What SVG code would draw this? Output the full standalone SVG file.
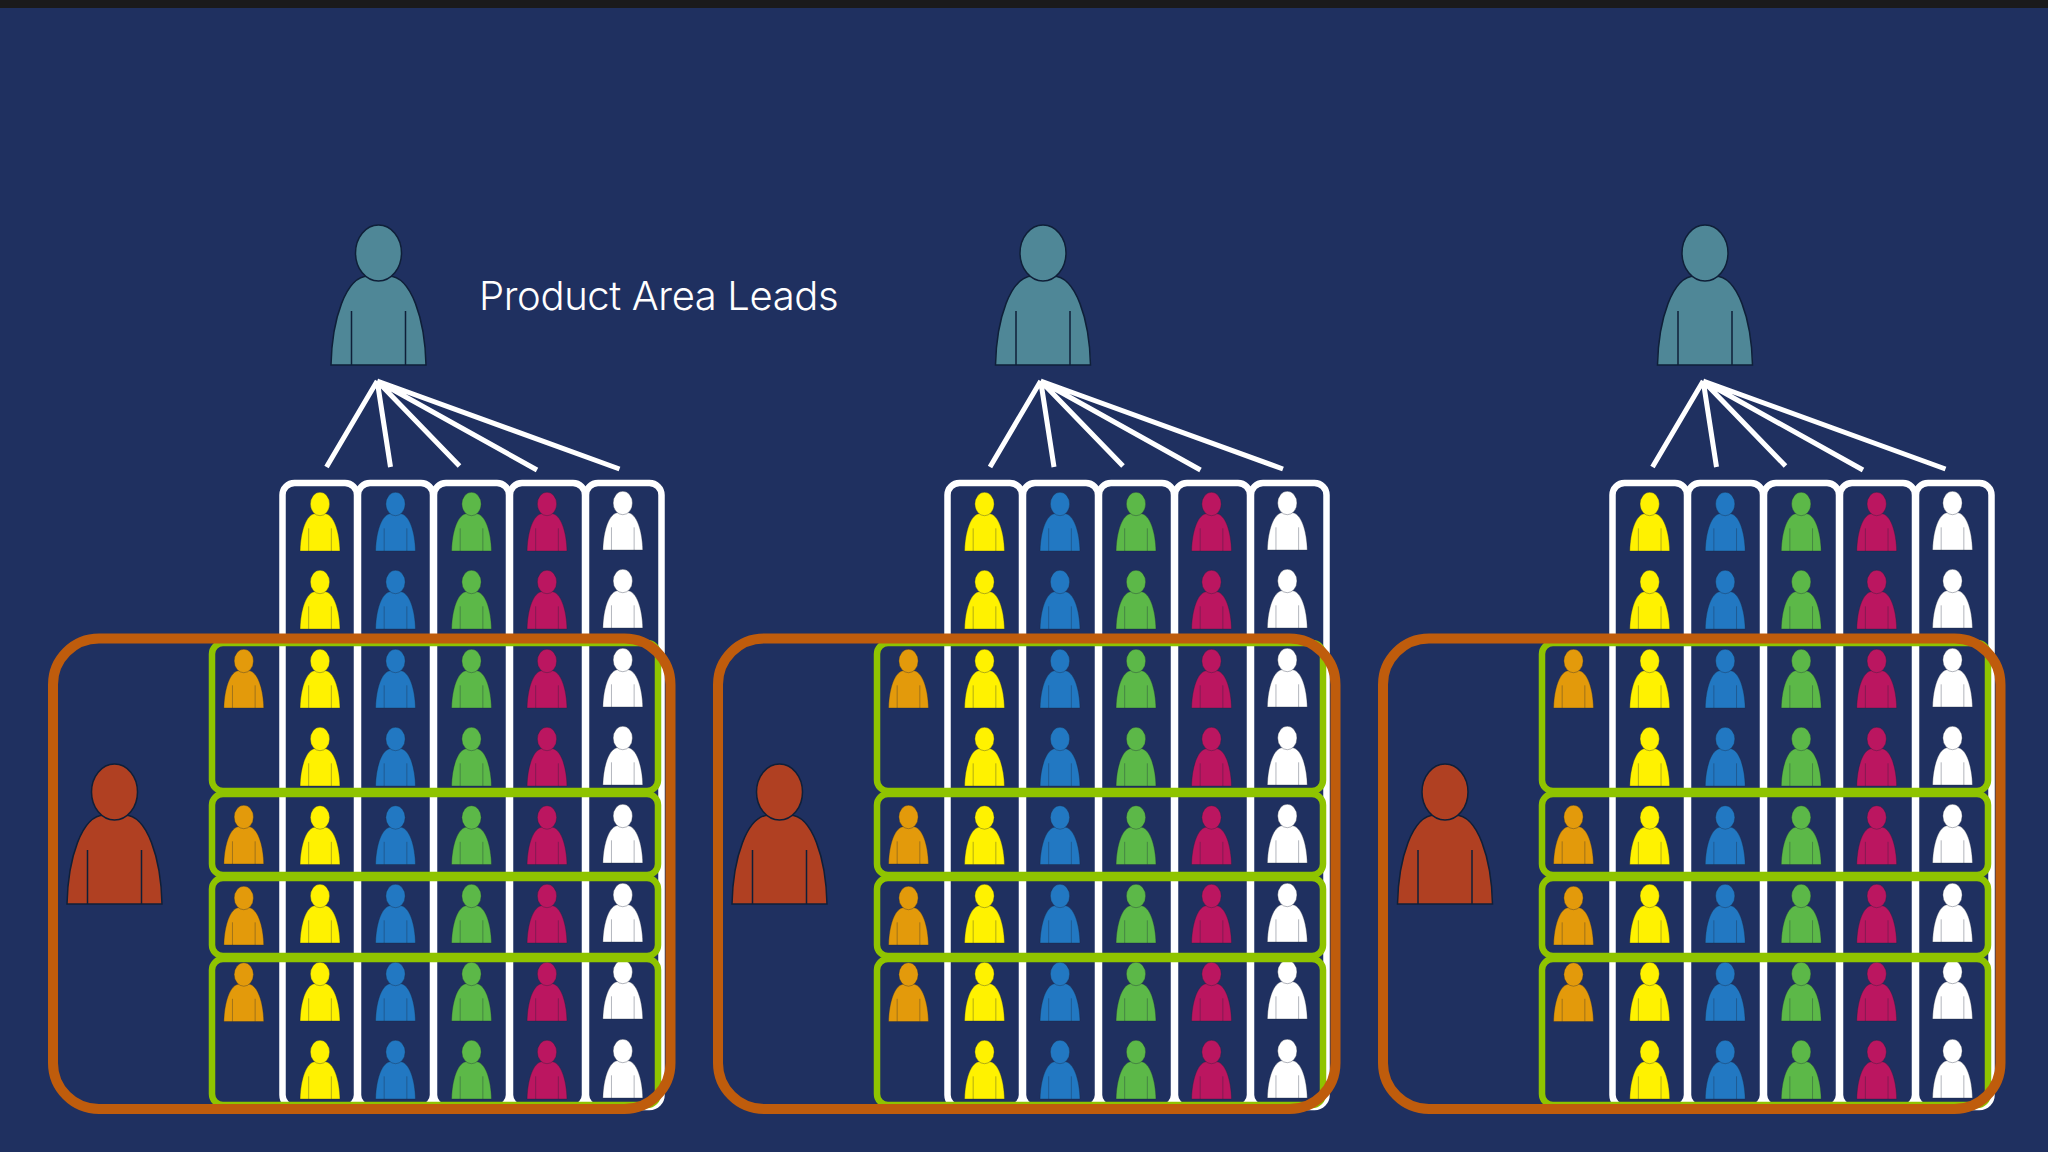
<svg xmlns="http://www.w3.org/2000/svg" xmlns:xlink="http://www.w3.org/1999/xlink" width="2048" height="1152" viewBox="0 0 2048 1152">
<style>
.col{fill:none;stroke:#fff;stroke-width:6.5}
.team{fill:none;stroke:#8fc400;stroke-width:6.5}
.area{fill:none;stroke:#bf5c0c;stroke-width:10}
.fan{fill:none;stroke:#fff;stroke-width:5}
.y{fill:#fff200}.b{fill:#2278c2}.g{fill:#5cb848}.m{fill:#bb1660}.w{fill:#fff}.o{fill:#e39a0b}
.lead{fill:#4f8797}.mgr{fill:#b04022}
text{font-family:"Inter","Lato",sans-serif;font-weight:300;font-size:40px;letter-spacing:-.37px;fill:#fff}
</style>
<defs>
<g id="bigp" stroke="#0f1f38" stroke-width="1.5">
<path d="M-47.5 0C-46.5-45-33-89-10-89L10-89C33-89 46.5-45 47.5 0Z"/>
<ellipse cx="0" cy="-112" rx="23" ry="28"/>
<path d="M-27-54V0M27-54V0" fill="none"/>
</g>
<g id="s" transform="scale(.42)" stroke="#1a2438" stroke-opacity=".4" stroke-width="2">
<path d="M-47.5 0C-46.5-45-33-89-10-89L10-89C33-89 46.5-45 47.5 0Z"/>
<ellipse cx="0" cy="-112" rx="23" ry="28"/>
<path d="M-27-54V0M27-54V0" fill="none"/>
</g>
<g id="frames">
<rect class="col" x="282.5" y="483" width="74.5" height="624" rx="12"/>
<rect class="col" x="358" y="483" width="75" height="624" rx="12"/>
<rect class="col" x="434" y="483" width="75" height="624" rx="12"/>
<rect class="col" x="510" y="483" width="75" height="624" rx="12"/>
<rect class="col" x="586" y="483" width="75.5" height="624" rx="12"/>
</g>
<g id="teams">
<rect class="team" x="212" y="643" width="446" height="148" rx="11"/>
<rect class="team" x="212" y="794" width="446" height="81" rx="11"/>
<rect class="team" x="212" y="878" width="446" height="78" rx="11"/>
<rect class="team" x="212" y="959" width="446" height="146" rx="11"/>
</g>
<g id="col8">
<use href="#s" y="551"/><use href="#s" y="629"/><use href="#s" y="708"/><use href="#s" y="786"/><use href="#s" y="864.5"/><use href="#s" y="943"/><use href="#s" y="1021"/><use href="#s" y="1099"/>
</g>
<g id="colw">
<use href="#s" y="550"/><use href="#s" y="628"/><use href="#s" y="707"/><use href="#s" y="785"/><use href="#s" y="863"/><use href="#s" y="942"/><use href="#s" y="1019"/><use href="#s" y="1098"/>
</g>
<g id="colo">
<use href="#s" y="708"/><use href="#s" y="864"/><use href="#s" y="945"/><use href="#s" y="1021.5"/>
</g>
<path id="fanlines" class="fan" d="M377.2 381L326.5 467M377.2 381L390.5 467M377.2 381L459.5 466M377.2 381L537 470M377.2 381L619.5 469"/>
</defs>
<rect width="2048" height="1152" fill="#1f3060"/>
<rect width="2048" height="8" fill="#1a1a1c"/>
<g id="connectors">
<use href="#fanlines"/>
<use href="#fanlines" x="663.5"/>
<use href="#fanlines" x="1326"/>
</g>
<g id="area-1">
<use id="lead-1" class="lead" href="#bigp" x="378.5" y="365"/>
<g id="columns-1"><use href="#frames"/></g>
<use id="col-1-yellow" class="y" href="#col8" x="320"/>
<use id="col-1-blue" class="b" href="#col8" x="395.5"/>
<use id="col-1-green" class="g" href="#col8" x="471.5"/>
<use id="col-1-magenta" class="m" href="#col8" x="547"/>
<use id="col-1-white" class="w" href="#colw" x="622.8"/>
<use id="col-1-orange" class="o" href="#colo" x="243.8"/>
<g id="teams-1"><use href="#teams"/></g>
<rect id="box-1" class="area" x="53" y="638.5" width="617.5" height="470.5" rx="46"/>
<use id="manager-1" class="mgr" href="#bigp" x="114.5" y="904"/>
</g>
<g id="area-2">
<use id="lead-2" class="lead" href="#bigp" x="1043" y="365"/>
<g id="columns-2" transform="translate(665 0)"><use href="#frames"/></g>
<use id="col-2-yellow" class="y" href="#col8" x="984.5"/>
<use id="col-2-blue" class="b" href="#col8" x="1060"/>
<use id="col-2-green" class="g" href="#col8" x="1136"/>
<use id="col-2-magenta" class="m" href="#col8" x="1211.5"/>
<use id="col-2-white" class="w" href="#colw" x="1287.3"/>
<use id="col-2-orange" class="o" href="#colo" x="908.5"/>
<g id="teams-2" transform="translate(665 0)"><use href="#teams"/></g>
<rect id="box-2" class="area" x="718" y="638.5" width="617.5" height="470.5" rx="46"/>
<use id="manager-2" class="mgr" href="#bigp" x="779.5" y="904"/>
</g>
<g id="area-3">
<use id="lead-3" class="lead" href="#bigp" x="1705" y="365"/>
<g id="columns-3" transform="translate(1330 0)"><use href="#frames"/></g>
<use id="col-3-yellow" class="y" href="#col8" x="1649.7"/>
<use id="col-3-blue" class="b" href="#col8" x="1725.2"/>
<use id="col-3-green" class="g" href="#col8" x="1801.2"/>
<use id="col-3-magenta" class="m" href="#col8" x="1876.7"/>
<use id="col-3-white" class="w" href="#colw" x="1952.5"/>
<use id="col-3-orange" class="o" href="#colo" x="1573.5"/>
<g id="teams-3" transform="translate(1330 0)"><use href="#teams"/></g>
<rect id="box-3" class="area" x="1383" y="638.5" width="617.5" height="470.5" rx="46"/>
<use id="manager-3" class="mgr" href="#bigp" x="1445" y="904"/>
</g>
<text id="label" x="479" y="309.5">Product Area Leads</text>
</svg>
